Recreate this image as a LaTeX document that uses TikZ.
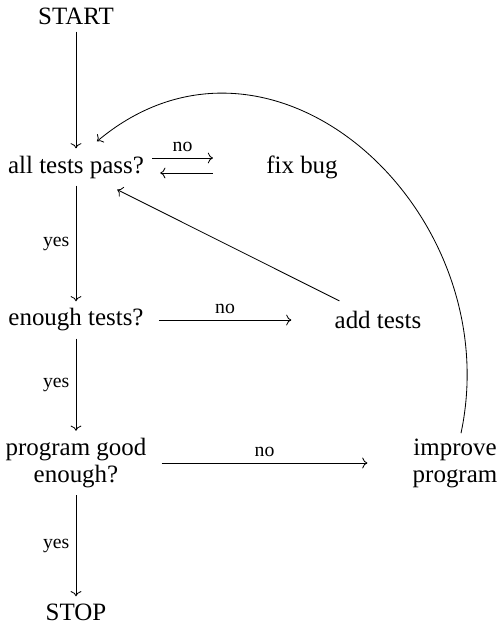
\documentclass[tikz,border=0pt]{standalone}
\usepackage{fontspec}
\setmainfont{Liberation Serif}
\usetikzlibrary{arrows.meta,positioning}
\tikzset{
  ar/.style={->,thin},
  st/.style={align=center,font=\fontsize{12}{13}\selectfont},
  lb/.style={font=\fontsize{9.5}{11}\selectfont,inner sep=3pt}
}
\begin{document}
\begin{tikzpicture}[x=0.0169cm,y=-0.0169cm]
\useasboundingbox (0,0) rectangle (497,632);
\node[st] (start) at (76,16) {START};
\node[st] (pass) at (76,167) {all tests pass?};
\node[st] (fix) at (302,167) {fix bug};
\node[st] (enough) at (76,320) {enough tests?};
\node[st] (add) at (378,320) {add tests};
\node[st] (good) at (76,463) {program good\\enough?};
\node[st] (impr) at (455,463) {improve\\program};
\node[st] (stop) at (76,612) {STOP};
% main line
\draw[ar] (start) -- (pass);
\draw[ar] (pass) -- node[lb,left]{yes} (enough);
\draw[ar] (enough) -- node[lb,left]{yes} (good);
\draw[ar] (good) -- node[lb,left]{yes} (stop);
% side branches
\draw[ar] ([shift={(1,-9)}]pass.east) -- node[lb,above]{no} ([shift={(-46,-9)}]fix.west);
\draw[ar] ([shift={(-46,6)}]fix.west) -- ([shift={(9,6)}]pass.east);
\draw[ar] ([shift={(8,0)}]enough.east) -- node[lb,above]{no} ([shift={(-36,0)}]add.west);
\draw[ar] ([shift={(8,0)}]good.east) -- node[lb,above]{no} ([shift={(-38,0)}]impr.west);
% back to the test
\draw[ar] ([shift={(12,-3)}]add.north west) -- ([shift={(-34,4)}]pass.south east);
\draw[ar] ([shift={(6,2)}]impr.north) to[out=78,in=40,looseness=1.25] ([shift={(21,-7)}]pass.north);
\end{tikzpicture}
\end{document}
